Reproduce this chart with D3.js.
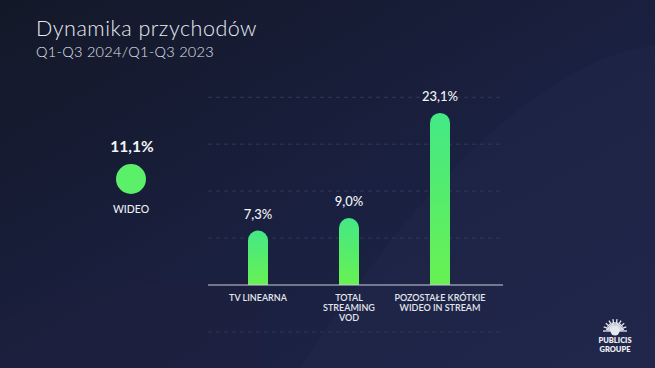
<!DOCTYPE html>
<html>
<head>
<meta charset="utf-8">
<script src="https://cdn.jsdelivr.net/npm/d3@7"></script>
<style>
  html, body { margin: 0; padding: 0; background: #161b2e; }
  svg { display: block; }
  text { font-family: "Lato", "Noto Sans", sans-serif; }
</style>
</head>
<body>
<div id="root"></div>
<script>
const categories = [['TV LINEARNA'], ['TOTAL', 'STREAMING', 'VOD'], ['POZOSTAŁE KRÓTKIE', 'WIDEO IN STREAM']]
const values = [7.3, 9.0, 23.1]
const valueLabels = ['7,3%', '9,0%', '23,1%']
const totalLabel = 'WIDEO'
const totalValue = '11,1%'
const gridValues = [-6.3, 6.3, 12.6, 18.9, 25.2]

const W = 655, H = 368

const svg = d3.select('#root').append('svg')
  .attr('width', W)
  .attr('height', H)

const defs = svg.append('defs')

// background
const bg = defs.append('linearGradient').attr('id', 'bg')
  .attr('x1', 0).attr('y1', 0).attr('x2', 1).attr('y2', 1)
bg.append('stop').attr('offset', 0).attr('stop-color', '#131828')
bg.append('stop').attr('offset', 0.55).attr('stop-color', '#1a2040')
bg.append('stop').attr('offset', 1).attr('stop-color', '#1f2547')

const barGrad = defs.append('linearGradient').attr('id', 'barGrad')
  .attr('x1', 0).attr('y1', 0).attr('x2', 0).attr('y2', 1)
barGrad.append('stop').attr('offset', 0).attr('stop-color', '#44e886')
barGrad.append('stop').attr('offset', 1).attr('stop-color', '#68f152')

svg.append('rect').attr('width', W).attr('height', H).attr('fill', 'url(#bg)')

// faint waves
svg.append('path')
  .attr('d', 'M 300 368 C 380 250, 470 120, 600 60 C 630 48, 655 45, 655 45 L 655 368 Z')
  .attr('fill', '#252b50').attr('opacity', 0.35)
svg.append('path')
  .attr('d', 'M 0 320 C 60 290, 150 275, 260 280 L 260 368 L 0 368 Z')
  .attr('fill', '#221f3c').attr('opacity', 0.35)

// title
svg.append('text')
  .attr('x', 36).attr('y', 36)
  .attr('fill', '#e9ebf2')
  .attr('font-size', 21.5)
  .attr('font-weight', 300)
  .attr('letter-spacing', 0.5)
  .text('Dynamika przychodów')
svg.append('text')
  .attr('x', 36).attr('y', 57)
  .attr('fill', '#e1e4ec')
  .attr('font-size', 14.5)
  .attr('font-weight', 300)
  .attr('letter-spacing', 0.3)
  .text('Q1-Q3 2024/Q1-Q3 2023')

// scales
const baseY = 285
const x = d3.scalePoint()
  .domain(d3.range(values.length))
  .range([258, 440])

const y = d3.scaleLinear()
  .domain([0, 25])
  .range([baseY, baseY - 25 * 7.45])

// grid
svg.append('g')
  .selectAll('line')
  .data(gridValues)
  .join('line')
  .attr('x1', 208).attr('x2', 503)
  .attr('y1', d => y(d)).attr('y2', d => y(d))
  .attr('stroke', '#30375a')
  .attr('stroke-width', 1)
  .attr('stroke-dasharray', '4,4')

// bars with rounded top
const bw = 20
svg.append('g')
  .selectAll('path')
  .data(values)
  .join('path')
  .attr('d', (d, i) => {
    const cx = x(i), top = y(d), r = bw / 2
    return `M${cx - r},${baseY} L${cx - r},${top + r} A${r},${r} 0 0 1 ${cx + r},${top + r} L${cx + r},${baseY} Z`
  })
  .attr('fill', 'url(#barGrad)')

// axis line
const axis = svg.append('g')
  .attr('transform', `translate(0, ${baseY})`)
  .call(d3.axisBottom(x).tickSize(0).tickFormat(''))
axis.select('.domain').remove()
axis.append('line')
  .attr('x1', 208).attr('x2', 503)
  .attr('stroke', '#c9cde0').attr('stroke-width', 1.2)

// value labels
svg.append('g')
  .selectAll('text')
  .data(values)
  .join('text')
  .attr('x', (d, i) => x(i))
  .attr('y', d => y(d) - 12)
  .attr('text-anchor', 'middle')
  .attr('fill', '#f2f3f7')
  .attr('font-size', 13)
  .attr('font-weight', 500)
  .text((d, i) => valueLabels[i])

// category labels
const catG = svg.append('g')
  .selectAll('text')
  .data(categories)
  .join('text')
  .attr('x', (d, i) => x(i))
  .attr('y', baseY + 16)
  .attr('text-anchor', 'middle')
  .attr('fill', '#e3e6ee')
  .attr('font-size', 9)
  .attr('font-weight', 600)
catG.selectAll('tspan')
  .data(d => d)
  .join('tspan')
  .attr('x', function() { return d3.select(this.parentNode).attr('x') })
  .attr('dy', (d, j) => j === 0 ? 0 : 10)
  .text(d => d)

// total (WIDEO)
svg.append('text')
  .attr('x', 132).attr('y', 152)
  .attr('text-anchor', 'middle')
  .attr('fill', '#f4f5f8')
  .attr('font-size', 15.5)
  .attr('font-weight', 700)
  .text(totalValue)
svg.append('circle')
  .attr('cx', 131).attr('cy', 179).attr('r', 15)
  .attr('fill', '#5cef6a')
svg.append('text')
  .attr('x', 131).attr('y', 213)
  .attr('text-anchor', 'middle')
  .attr('fill', '#eef0f5')
  .attr('font-size', 10.5)
  .attr('font-weight', 500)
  .text(totalLabel)

// logo
const logo = svg.append('g').attr('transform', 'translate(615, 331)')
logo.selectAll('line')
  .data(d3.range(0, 181, 10))
  .join('line')
  .attr('x1', d => Math.cos((180 + d) * Math.PI / 180) * 4)
  .attr('y1', d => Math.sin((180 + d) * Math.PI / 180) * 4)
  .attr('x2', d => Math.cos((180 + d) * Math.PI / 180) * (d % 20 ? 9 : 12))
  .attr('y2', d => Math.sin((180 + d) * Math.PI / 180) * (d % 20 ? 9 : 12))
  .attr('stroke', '#e6e8f0').attr('stroke-width', 1.3)
logo.append('circle').attr('r', 4.5).attr('fill', '#e6e8f0')
logo.append('text')
  .attr('y', 12).attr('text-anchor', 'middle')
  .attr('fill', '#eceef4').attr('font-size', 7.5).attr('font-weight', 800)
  .attr('font-family', 'DejaVu Sans, sans-serif')
  .text('PUBLICIS')
logo.append('text')
  .attr('y', 21).attr('text-anchor', 'middle')
  .attr('fill', '#eceef4').attr('font-size', 7.5).attr('font-weight', 800)
  .attr('font-family', 'DejaVu Sans, sans-serif')
  .text('GROUPE')
</script>
</body>
</html>
